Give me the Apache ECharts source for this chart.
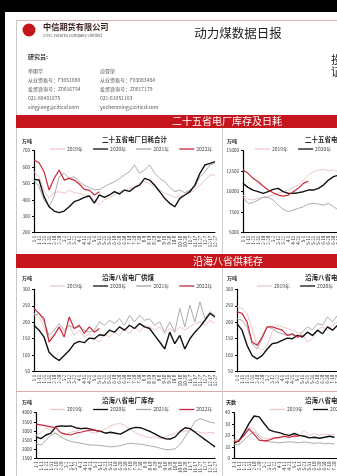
<!DOCTYPE html>
<html>
<head>
<meta charset="utf-8">
<script src="https://cdn.jsdelivr.net/npm/echarts@6/dist/echarts.min.js"></script>
<style>
  html, body { margin: 0; padding: 0; background: #000; overflow: hidden; width: 337px; height: 476px; }
  #chart { width: 540px; height: 476px; }
</style>
</head>
<body>
<div id="chart"></div>
<script>
// x axis: one tick every 10 days
const dates = ['1-1','1-11','1-21','1-31','2-10','2-20','3-2','3-12','3-22','4-1','4-11','4-21','5-1','5-11','5-21','5-31','6-10','6-20','6-30','7-10','7-20','7-30','8-9','8-19','8-29','9-8','9-18','9-28','10-8','10-18','10-28','11-7','11-17','11-27','12-7','12-17','12-27'];
const years = ['2019年', '2020年', '2021年', '2022年'];

// 二十五省电厂日耗合计 (万吨)
const burn25_2019 = [572,541,460,409,444,450,440,460,444,440,430,424,400,369,400,415,430,450,460,470,480,501,511,501,480,460,440,430,415,424,430,444,460,490,521,552,552];
const burn25_2020 = [525,521,420,358,332,322,332,358,389,400,415,424,380,430,415,430,450,436,460,452,476,490,531,521,490,450,409,379,358,409,430,450,490,562,613,623,633];
const burn25_2021 = [521,480,400,358,420,541,562,531,541,511,490,476,460,464,480,497,511,531,552,572,613,562,582,613,562,531,511,476,450,460,444,460,480,541,572,613,623];
const burn25_2022 = [643,627,572,460,531,582,521,531,521,497,464,460,430,450];

// 二十五省电厂库存合计 (万吨)
const stock25_2019 = [9590,9070,8980,9190,9310,9470,9590,9800,10000,10200,10530,10810,11420,12030,12440,12640,12720,12560,12640,12440,12240];
const stock25_2020 = [11020,10530,10200,10000,9800,10000,10280,10410,10000,9800,9800,9880,10000,10200,10200,10410,10810,11420,11830,12030,11910];
const stock25_2021 = [9310,8580,8660,8980,9310,9310,8980,8370,7850,7560,7760,7970,8170,8500,8580,8500,8370,8580,8170,7760,7560];
const stock25_2022 = [12640,12240,11630,11220,10690,10200,9880,9590,9470,9590,10000,10410,11020,11300];

// 沿海八省电厂供煤 (万吨)
const supply8_2019 = [227,216,186,150,165,181,170,191,160,176,155,165,150,140,165,155,170,160,181,165,186,170,191,186,176,186,165,181,170,186,176,186,196,201,191,206,196];
const supply8_2020 = [191,176,155,109,94,84,99,114,135,142,138,152,150,162,160,176,170,186,176,191,181,196,186,181,160,140,119,170,135,160,119,150,170,186,206,227,216];
const supply8_2021 = [221,227,201,160,176,196,176,191,181,186,176,170,176,201,191,206,196,211,191,221,201,221,206,211,191,201,170,201,170,242,186,252,201,262,211,232,221];
const supply8_2022 = [242,227,211,140,160,186,155,216,181,191,166,186,170,181];

// 沿海八省电厂日耗 (万吨)
const burn8_2019 = [247,242,227,181,130,114,130,170,191,186,181,176,170,165,140,150,176,186,176,191,201];
const burn8_2020 = [196,176,130,99,89,99,119,135,138,145,152,150,160,155,170,160,176,165,186,176,191];
const burn8_2021 = [211,206,186,135,119,150,186,181,170,165,160,162,155,170,186,176,196,191,216,201,221];
const burn8_2022 = [232,227,201,140,130,155,186,186,181,176,160,165,155,160];

// 沿海八省电厂库存 (万吨)
const stock8_2019 = [2780,2880,3180,3030,2880,2680,2830,2930,2980,3080,3030,2930,2880,2980,3130,3280,3380,3400,3280,3080,2930,2780,2680,2630,2680,2580,2680,2780,2880,2930,2980,3030,2980,2930,2880,2930,2880];
const stock8_2020 = [2680,2580,2780,2880,3230,3280,3260,3280,3180,3130,3160,3100,3030,2980,2880,2930,2880,2830,2980,3130,3200,3180,3080,2960,2830,2680,2580,2560,2680,2980,3180,3130,2930,2730,2530,2330,2130];
const stock8_2021 = [2330,2230,2480,2780,2880,2680,2530,2430,2380,2330,2280,2230,2230,2200,2180,2130,2160,2200,2280,2330,2300,2280,2230,2180,2130,2060,1980,1980,2030,2280,2680,3080,3530,3680,3580,3480,3430];
const stock8_2022 = [3380,3330,3280,3230,3180,2900,2830,2780,2880,2930,3000,3060,3030,2980];

// 沿海八省电厂可用天数 (天)
const days8_2019 = [16.1,16.9,21,27.4,25.8,20.2,17.7,16.9,18.5,17.7,18.5,19.4,18.5,20.2,24.2,20.2,21.8,20.2,21.3,20.6,21];
const days8_2020 = [13.7,15.3,22.6,30.6,37.1,36.3,30.6,25,23.4,22.6,21,20.2,21.8,20.2,19.4,18,18.5,17.7,18.5,19.4,18.5];
const days8_2021 = [12.1,12.1,16.1,20.2,23.4,18.5,15.3,14.5,14.2,13.7,14.2,14.5,14.2,13.7,14.5,13.7,13.2,13.7,12.9,13.2,12.6];
const days8_2022 = [14.5,15.3,20.2,25.8,21,16.1,15.3,16.1,17.7,18.5,19.4,18.5,19.7,19.4];

const RED = '#c4161c';
const CN = '"Noto Sans CJK SC", "Liberation Sans", sans-serif';
const lineColors = { '2019年': '#efc6c6', '2020年': '#111111', '2021年': '#a3a3a3', '2022年': '#c8283a' };
const lineWidths = { '2019年': 1, '2020年': 1.4, '2021年': 0.9, '2022年': 1.2 };

const panels = [
  { grid: { left: 34, top: 150.7, width: 181, height: 82 }, min: 200, max: 700, step: 100,
    data: [burn25_2019, burn25_2020, burn25_2021, burn25_2022], legend: [50, 146.5] },
  { grid: { left: 243, top: 150.7, width: 181, height: 82 }, min: 5000, max: 15000, step: 2500,
    data: [stock25_2019, stock25_2020, stock25_2021, stock25_2022], legend: [255, 146.5] },
  { grid: { left: 34, top: 289.3, width: 181, height: 82.4 }, min: 50, max: 300, step: 50,
    data: [supply8_2019, supply8_2020, supply8_2021, supply8_2022], legend: [50, 283.5] },
  { grid: { left: 237, top: 289.3, width: 181, height: 82.4 }, min: 50, max: 300, step: 50,
    data: [burn8_2019, burn8_2020, burn8_2021, burn8_2022], legend: [257, 283.5] },
  { grid: { left: 36, top: 412.7, width: 179, height: 83 }, min: 1500, max: 4000, step: 500,
    data: [stock8_2019, stock8_2020, stock8_2021, stock8_2022], legend: [50, 407] },
  { grid: { left: 234, top: 412.7, width: 181, height: 80.8 }, min: 0, max: 40, step: 10,
    data: [days8_2019, days8_2020, days8_2021, days8_2022], legend: [270, 407] }
];

const grid = [], xAxis = [], yAxis = [], series = [], legend = [];
panels.forEach((p, gi) => {
  grid.push(p.grid);
  xAxis.push({
    type: 'category', gridIndex: gi, data: dates, boundaryGap: false,
    axisLine: { lineStyle: { color: '#000', width: 1 } },
    axisTick: { show: false },
    axisLabel: { interval: 0, rotate: 90, fontSize: 4.5, color: '#333', margin: 3, fontFamily: CN }
  });
  yAxis.push({
    type: 'value', gridIndex: gi, min: p.min, max: p.max, interval: p.step,
    splitLine: { show: false },
    axisLine: { show: true, lineStyle: { color: '#000', width: 1.2 } },
    axisTick: { show: true, length: 2, lineStyle: { color: '#000' } },
    axisLabel: { fontSize: 4.5, color: '#333', margin: 4, fontFamily: CN, formatter: v => String(v) }
  });
  // draw order: 2019, 2021, 2020, 2022 on top
  [0, 2, 1, 3].forEach(k => {
    const name = years[k];
    series.push({
      type: 'line', name, xAxisIndex: gi, yAxisIndex: gi, data: p.data[k],
      symbol: 'none', smooth: false,
      lineStyle: { color: lineColors[name], width: lineWidths[name] },
      itemStyle: { color: lineColors[name] }
    });
  });
  legend.push({
    left: p.legend[0], top: p.legend[1], data: years, orient: 'horizontal',
    icon: 'rect', itemWidth: 15, itemHeight: 1.3, itemGap: 10, padding: 0, width: 300,
    textStyle: { fontSize: 5, color: '#444', fontFamily: CN, padding: [0, 0, 0, -3] },
    selectedMode: false
  });
});

function txt(x, y, text, size, opts) {
  opts = opts || {};
  return {
    type: 'text', x, y, z: 10, silent: true,
    style: {
      text, fontSize: size, fontFamily: CN, fill: opts.fill || '#222',
      fontWeight: opts.bold ? 'bold' : 'normal',
      textAlign: opts.align || 'left', align: opts.align || 'left',
      textVerticalAlign: 'middle', verticalAlign: 'middle'
    }
  };
}
function line(x1, y1, x2, y2, color, w) {
  return { type: 'line', z: 1, silent: true, shape: { x1, y1, x2, y2 }, style: { stroke: color, lineWidth: w || 1 } };
}

const graphic = [
  { type: 'rect', z: 0, silent: true, shape: { x: 5, y: 12, width: 535, height: 464 }, style: { fill: '#fff' } },
  line(16, 20.5, 540, 20.5, '#e2b0b0', 1),
  line(16.5, 20, 16.5, 476, '#c8c8c8', 1),
  // logo
  { type: 'circle', z: 5, silent: true, shape: { cx: 29, cy: 30, r: 6.5 }, style: { fill: RED } },
  line(27, 25, 27, 35, '#fff', 1), line(29, 24, 29, 36, '#fff', 1), line(31, 25, 31, 35, '#fff', 1),
  txt(43, 27, '中信期货有限公司', 8.2, { bold: true, fill: '#3a2020' }),
  txt(43, 35.5, 'CITIC Futures Company Limited', 4, { fill: '#555' }),
  txt(238, 33.5, '动力煤数据日报', 12.5, { align: 'center', fill: '#222' }),
  txt(331, 60, '投', 11, { fill: '#222' }),
  txt(331, 72, '证', 11, { fill: '#222' }),
  txt(28, 57, '研究员:', 6, { bold: true, fill: '#333' }),
  txt(28, 71, '单丽华', 5, { fill: '#555' }),
  txt(28, 80, '从业资格号：F3051080', 5, { fill: '#555' }),
  txt(28, 89, '投资咨询号：Z0016754', 5, { fill: '#555' }),
  txt(28, 98, '021-80401875', 5, { fill: '#555' }),
  txt(28, 107, 'xingjiang@citicsf.com', 5, { fill: '#555' }),
  txt(100, 71, '俞亚荣', 5, { fill: '#555' }),
  txt(100, 80, '从业资格号：F03083484', 5, { fill: '#555' }),
  txt(100, 89, '投资咨询号：Z0017179', 5, { fill: '#555' }),
  txt(100, 98, '021-61051103', 5, { fill: '#555' }),
  txt(100, 107, 'yuchenming@citicsf.com', 5, { fill: '#555' }),
  // section bars
  { type: 'rect', z: 2, silent: true, shape: { x: 16, y: 115, width: 524, height: 13 }, style: { fill: RED } },
  txt(227, 121.5, '二十五省电厂库存及日耗', 10, { align: 'center', fill: '#fff' }),
  { type: 'rect', z: 2, silent: true, shape: { x: 16, y: 254, width: 524, height: 14 }, style: { fill: RED } },
  txt(228, 261, '沿海八省供耗存', 10, { align: 'center', fill: '#fff' }),
  line(16, 391.5, 540, 391.5, '#dcaaaa', 1),
  line(222.5, 128, 222.5, 254, '#cfcfcf', 1),
  line(222.5, 268, 222.5, 476, '#cfcfcf', 1),
  // chart titles and units
  txt(102, 140, '二十五省电厂日耗合计', 6.5, { bold: true }),
  txt(305, 140, '二十五省电厂库存合计', 6.5, { bold: true }),
  txt(102, 277.5, '沿海八省电厂供煤', 6.5, { bold: true }),
  txt(305, 277.5, '沿海八省电厂日耗', 6.5, { bold: true }),
  txt(102, 401, '沿海八省电厂库存', 6.5, { bold: true }),
  txt(305, 401, '沿海八省电厂可用天数', 6.5, { bold: true }),
  txt(22, 141, '万吨', 5, { bold: true }),
  txt(227, 141, '万吨', 5, { bold: true }),
  txt(22, 278, '万吨', 5, { bold: true }),
  txt(227, 278, '万吨', 5, { bold: true }),
  txt(22, 402, '万吨', 5, { bold: true }),
  txt(226, 402, '天数', 5, { bold: true })
];

const chart = echarts.init(document.getElementById('chart'), null, { renderer: 'canvas' });
chart.setOption({
  animation: false,
  backgroundColor: 'transparent',
  graphic,
  grid, xAxis, yAxis, series, legend
});
</script>
</body>
</html>
